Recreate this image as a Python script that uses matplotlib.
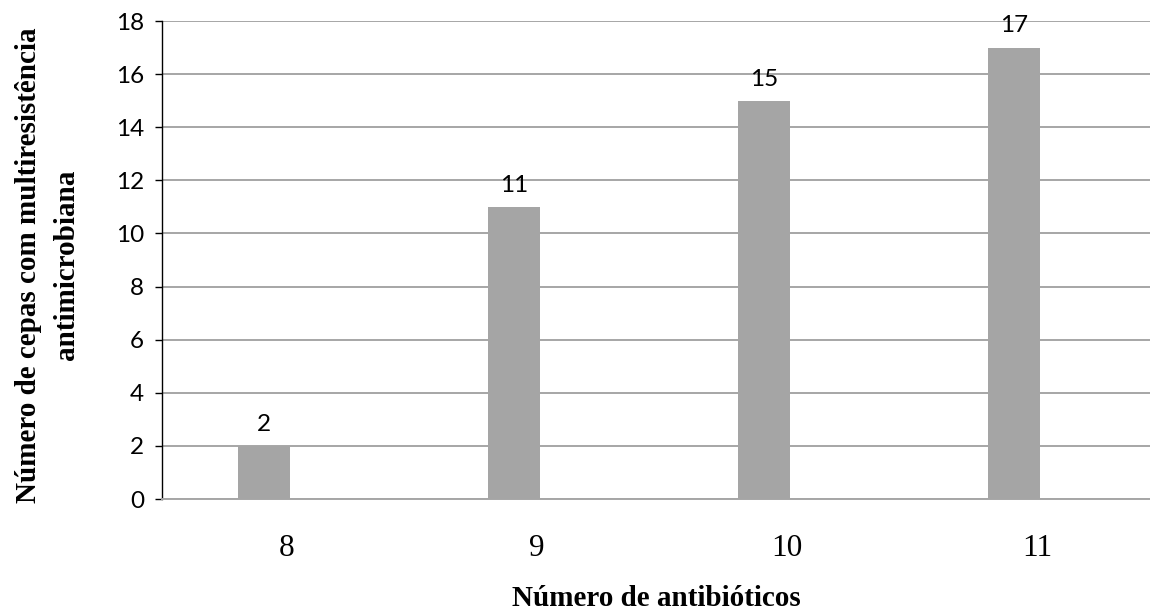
import matplotlib
matplotlib.use("Agg")
import matplotlib.pyplot as plt

antibioticos = ["8", "9", "10", "11"]
cepas = [2, 11, 15, 17]
y_ticks = list(range(0, 19, 2))

fig = plt.figure(figsize=(11.5, 6.14), dpi=100)
ax = fig.add_axes([162 / 1150, 1 - 499 / 614, 1 - 162 / 1150, (499 - 21) / 614])

pos = list(range(len(antibioticos)))
bars = ax.bar([p - 0.092 for p in pos], cepas, width=0.208, color="#a5a5a5", zorder=3)

for b, v in zip(bars, cepas):
    ax.annotate(str(v), (b.get_x() + b.get_width() / 2, v), xytext=(0, 8),
                textcoords="offset points", ha="center", va="bottom",
                fontsize=17.5, family="Lato")

ax.set_xlim(-0.5, (1150 - 287) / 250)
ax.set_ylim(0, 18)
ax.set_yticks(y_ticks)
ax.set_yticklabels([str(t) for t in y_ticks], fontsize=17.5, family="Lato")
ax.set_xticks(pos)
ax.set_xticklabels(antibioticos, fontsize=22.5, family="Liberation Serif")

ax.grid(axis="y", color="#a6a6a6", linewidth=1.4, zorder=0)
ax.tick_params(axis="x", length=0, pad=25)
ax.tick_params(axis="y", length=5, width=1, pad=8, color="black")

for s in ["top", "right"]:
    ax.spines[s].set_visible(False)
ax.spines["left"].set_color("black")
ax.spines["left"].set_linewidth(1)
ax.spines["bottom"].set_color("#a6a6a6")
ax.spines["bottom"].set_linewidth(1.4)

ax.set_xlabel("Número de antibióticos", fontsize=21, fontweight="bold",
              family="Liberation Serif", labelpad=16)
ax.set_ylabel("Número de cepas com multiresistência\nantimicrobiana", fontsize=21,
              fontweight="bold", family="Liberation Serif", linespacing=1.5)
ax.yaxis.set_label_coords(-82 / 988, 0.49)

fig.savefig("out.png", dpi=100)
